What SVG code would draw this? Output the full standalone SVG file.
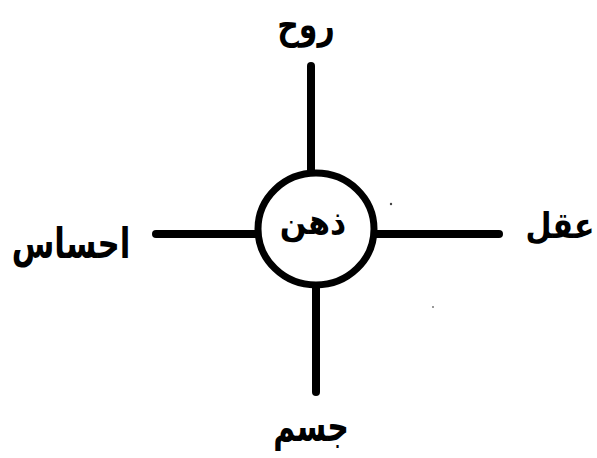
<svg xmlns="http://www.w3.org/2000/svg" width="597" height="458" viewBox="0 0 597 458">
<style>
.ln{stroke:#000;stroke-width:8;stroke-linecap:round;fill:none}
.lb{font-family:"DejaVu Sans","Noto Sans",sans-serif;font-weight:bold;font-size:30px;fill:#000;text-anchor:middle}
</style>
<rect width="597" height="458" fill="#fff"/>
<g id="connectors">
<line class="ln" x1="311" y1="66" x2="311" y2="170"/>
<line class="ln" x1="156" y1="234" x2="256" y2="234"/>
<line class="ln" x1="376" y1="234" x2="499" y2="234"/>
<line class="ln" x1="316" y1="287" x2="316" y2="392"/>
</g>
<g id="node-zehn">
<ellipse cx="316" cy="229" rx="58" ry="56" fill="#fff" stroke="#000" stroke-width="7"/>
<text class="lb" transform="translate(313,234) scale(1.05,1.15)" direction="rtl">ذهن</text>
</g>
<g id="node-ruh"><text class="lb" transform="translate(306,38) scale(1,1.3)" direction="rtl">روح</text></g>
<g id="node-ehsas"><text class="lb" transform="translate(71,258) scale(1.03,1.4)" direction="rtl">احساس</text></g>
<g id="node-aghl"><text class="lb" transform="translate(560,238) scale(1,1.2)" direction="rtl">عقل</text></g>
<g id="node-jesm"><text class="lb" transform="translate(311,441) scale(1,1.4)" direction="rtl">جسم</text></g>
<circle cx="391" cy="204" r="1.2" fill="#444"/>
<circle cx="433" cy="307" r="1" fill="#777"/>
</svg>
